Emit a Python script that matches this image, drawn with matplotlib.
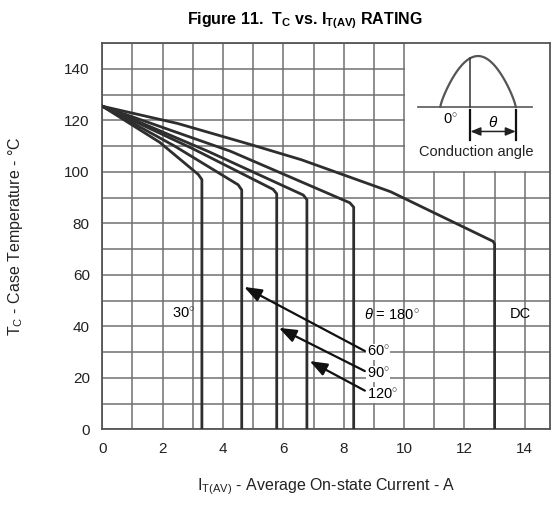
import numpy as np
import matplotlib.pyplot as plt
from matplotlib.patches import Rectangle

plt.rcParams['font.family'] = ['Liberation Sans', 'DejaVu Sans']
plt.rcParams['mathtext.fontset'] = 'custom'
plt.rcParams['mathtext.rm'] = 'Liberation Sans'
plt.rcParams['mathtext.it'] = 'Liberation Sans:italic'
plt.rcParams['mathtext.bf'] = 'Liberation Sans:bold'

# Curves: (current A, case temp C)
x_30 = [0, 1.9, 3.18, 3.3, 3.3]
y_30 = [125.5, 111.5, 99, 97, 0]
x_60 = [0, 2.4, 4.5, 4.62, 4.62]
y_60 = [125.5, 110, 95, 93, 0]
x_90 = [0, 3.0, 5.66, 5.78, 5.78]
y_90 = [125.5, 109, 93.2, 91.5, 0]
x_120 = [0, 3.5, 6.66, 6.78, 6.78]
y_120 = [125.5, 108, 91, 89.2, 0]
x_180 = [0, 4.25, 8.2, 8.33, 8.33]
y_180 = [125.5, 108, 88, 86.3, 0]
x_dc = [0, 2.5, 4.95, 6.6, 9.55, 12.95, 13.0, 13.0]
y_dc = [125.5, 118.8, 110.5, 104.7, 92.3, 73, 72, 0]

curves = [(x_30, y_30), (x_60, y_60), (x_90, y_90),
          (x_120, y_120), (x_180, y_180), (x_dc, y_dc)]

x_ticks = [0, 2, 4, 6, 8, 10, 12, 14]
y_ticks = [0, 20, 40, 60, 80, 100, 120, 140]

fig = plt.figure(figsize=(5.56, 5.08), dpi=100)
ax = fig.add_axes([0.184, 0.155, 0.806, 0.76])

for xs, ys in curves:
    ax.plot(xs, ys, color='#2e2e2e', lw=2.0, zorder=3, solid_joinstyle='round')

ax.set_xlim(0, 14.85)
ax.set_ylim(0, 150)
ax.set_xticks(x_ticks)
ax.set_xticks(np.arange(0, 15, 1), minor=True)
ax.set_yticks(y_ticks)
ax.set_yticks(np.arange(0, 151, 10), minor=True)
ax.tick_params(which='both', length=0, labelsize=11, colors='#222222')
ax.tick_params(axis='x', pad=9)
ax.tick_params(axis='y', pad=9)
ax.grid(which='both', color='#707070', lw=1.1)
ax.set_axisbelow(True)
for s in ax.spines.values():
    s.set_color('#555555')
    s.set_linewidth(1.3)

# inset box: conduction angle sketch
ax.add_patch(Rectangle((10.04, 100.4), 5, 50, facecolor='white', edgecolor='none',
                       zorder=1))
px = np.linspace(11.2, 13.7, 80)
py = 125.3 + 19.7 * np.sin(np.pi * (px - 11.2) / 2.5) ** 0.8
ax.plot([10.45, 14.25], [125.3, 125.3], color='#666666', lw=1.3, zorder=4)
ax.plot(px, py, color='#555555', lw=1.6, zorder=4)
ax.plot([12.2, 12.2], [125.3, 125.3 + 19.7 * np.sin(np.pi * 1.0 / 2.5) ** 0.8],
        color='#333333', lw=1.1, zorder=4)
ax.plot([12.2, 12.2], [124, 112.5], color='#111111', lw=1.6, zorder=4)
ax.plot([13.7, 13.7], [124, 112.5], color='#111111', lw=1.6, zorder=4)
ax.annotate('', xy=(12.2, 115.7), xytext=(13.7, 115.7),
            arrowprops=dict(arrowstyle='<|-|>,head_length=0.6,head_width=0.25',
                            color='#222222', lw=1.1,
                            mutation_scale=10, shrinkA=0, shrinkB=0), zorder=4)
ax.text(11.55, 120.2, '0$^{\\circ}$', fontsize=10.5, ha='center', va='center', zorder=5)
ax.text(12.95, 119.2, r'$\theta$', fontsize=11, ha='center', va='center', zorder=5)
ax.text(12.4, 107.6, 'Conduction angle', fontsize=10.5, ha='center', va='center', zorder=5,
        color='#222222')

# curve labels
ax.text(2.7, 44.7, '30$^{\\circ}$', fontsize=10.5, ha='center', va='center')
ax.text(9.6, 44.7, r'$\theta$ = 180$^{\circ}$', fontsize=10.5, ha='center', va='center')
ax.text(13.85, 44.7, 'DC', fontsize=10.5, ha='center', va='center')

arrows = [('60$^{\\circ}$', (8.7, 30.4), (4.7, 55.3), 30.0),
          ('90$^{\\circ}$', (8.7, 22.6), (5.85, 39.4), 21.6),
          ('120$^{\\circ}$', (8.7, 15.0), (6.87, 26.5), 13.3)]
for lab, tail, tip, ly in arrows:
    ax.annotate('', xy=tip, xytext=tail,
                arrowprops=dict(arrowstyle='-|>,head_length=0.75,head_width=0.28',
                                color='#111111', lw=1.6,
                                mutation_scale=14, shrinkA=0, shrinkB=0), zorder=5)
    ax.text(8.76, ly, lab, fontsize=10.5, ha='left', va='center', zorder=5,
            bbox=dict(facecolor='white', edgecolor='none', pad=0.5))

fig.text(0.548, 0.96, r'Figure 11.  T$_{\mathbf{C}}$ vs. I$_{\mathbf{T(AV)}}$ RATING',
         fontsize=11.5, fontweight='bold', ha='center', va='center')
ax.set_xlabel(r'I$_{\mathrm{T(AV)}}$ - Average On-state Current - A', fontsize=11.5,
              labelpad=15, color='#222222')
ax.set_ylabel(r'T$_{\mathrm{C}}$ - Case Temperature - °C', fontsize=11.5,
              labelpad=28, color='#222222')

fig.savefig('out.png', dpi=100)
